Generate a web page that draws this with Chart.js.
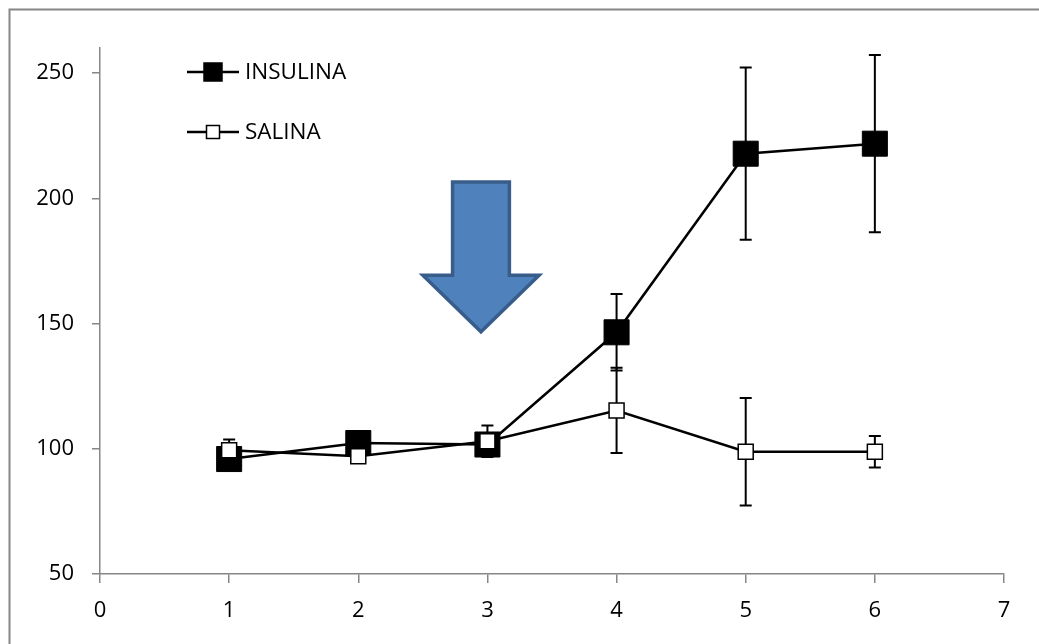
<!DOCTYPE html>
<html>
<head>
<meta charset="utf-8">
<script src="https://cdn.jsdelivr.net/npm/chart.js@4.4.1/dist/chart.umd.min.js"></script>
<style>
  body { margin: 0; background: #fff; }
  #wrap { width: 1039px; height: 644px; position: relative; }
</style>
</head>
<body>
<div id="wrap"><canvas id="chart1" width="1039" height="644"></canvas></div>
<script>
const canvas = document.getElementById("chart1");

// data
const xValues = [1, 2, 3, 4, 5, 6];
const insulina = [95.9, 102.3, 101.7, 146.5, 217.8, 221.8];
const insulinaErr = [3, 3, 2, 15.3, 34.4, 35.4];
const salina = [99.4, 97.0, 103.0, 115.3, 98.8, 98.8];
const salinaErr = [4.3, 2, 6.3, 17, 21.5, 6.3];
const yTicks = [50, 100, 150, 200, 250];
const xTicks = [0, 1, 2, 3, 4, 5, 6, 7];
const seriesNames = ["INSULINA", "SALINA"];

// arrow annotation, in data units
const arrow = { x: 2.95, top: 206.5, neck: 169.3, tip: 146.7, shaftHalf: 0.22, headHalf: 0.45 };

const FONT = "'Open Sans', 'Noto Sans', sans-serif";
const AXIS_GREY = "#868686";

function toPoints(ys) {
  return xValues.map((x, i) => ({ x: x, y: ys[i] }));
}

// frame around the whole picture
const framePlugin = {
  id: "frame",
  beforeDraw(chart) {
    const ctx = chart.ctx;
    ctx.save();
    ctx.fillStyle = "#fff";
    ctx.fillRect(0, 0, chart.width, chart.height);
    ctx.strokeStyle = AXIS_GREY;
    ctx.lineWidth = 2;
    ctx.strokeRect(9.5, 9.5, chart.width + 20, chart.height + 20);
    ctx.restore();
  },
};

// error bars, behind the markers
const errorBarPlugin = {
  id: "errorBars",
  beforeDatasetsDraw(chart) {
    const ctx = chart.ctx;
    const xs = chart.scales.x;
    const ys = chart.scales.y;
    const sets = [
      [salina, salinaErr],
      [insulina, insulinaErr],
    ];
    ctx.save();
    ctx.strokeStyle = "#000";
    ctx.lineWidth = 2;
    sets.forEach(([vals, errs]) => {
      vals.forEach((v, i) => {
        const px = xs.getPixelForValue(xValues[i]);
        const top = ys.getPixelForValue(v + errs[i]);
        const bot = ys.getPixelForValue(v - errs[i]);
        ctx.beginPath();
        ctx.moveTo(px, top);
        ctx.lineTo(px, bot);
        ctx.moveTo(px - 6, top);
        ctx.lineTo(px + 6, top);
        ctx.moveTo(px - 6, bot);
        ctx.lineTo(px + 6, bot);
        ctx.stroke();
      });
    });
    ctx.restore();
  },
};

// blue arrow + legend inside plot
const extrasPlugin = {
  id: "extras",
  afterDatasetsDraw(chart) {
    const ctx = chart.ctx;
    const xs = chart.scales.x;
    const ys = chart.scales.y;
    const cx = xs.getPixelForValue(arrow.x);
    const sL = xs.getPixelForValue(arrow.x - arrow.shaftHalf);
    const sR = xs.getPixelForValue(arrow.x + arrow.shaftHalf);
    const hL = xs.getPixelForValue(arrow.x - arrow.headHalf);
    const hR = xs.getPixelForValue(arrow.x + arrow.headHalf);
    const yTop = ys.getPixelForValue(arrow.top);
    const yNeck = ys.getPixelForValue(arrow.neck);
    const yTip = ys.getPixelForValue(arrow.tip);

    ctx.save();
    ctx.beginPath();
    ctx.moveTo(sL, yTop);
    ctx.lineTo(sR, yTop);
    ctx.lineTo(sR, yNeck);
    ctx.lineTo(hR, yNeck);
    ctx.lineTo(cx, yTip);
    ctx.lineTo(hL, yNeck);
    ctx.lineTo(sL, yNeck);
    ctx.closePath();
    ctx.fillStyle = "#4F81BD";
    ctx.fill();
    ctx.strokeStyle = "#385D8A";
    ctx.lineWidth = 3.5;
    ctx.lineJoin = "miter";
    ctx.stroke();

    // legend
    const rows = [
      { y: 72, size: 18, fill: "#000" },
      { y: 132, size: 13, fill: "#fff" },
    ];
    ctx.font = "22.5px " + FONT;
    ctx.textBaseline = "middle";
    rows.forEach((r, i) => {
      ctx.strokeStyle = "#000";
      ctx.lineWidth = 2.5;
      ctx.beginPath();
      ctx.moveTo(187, r.y);
      ctx.lineTo(239, r.y);
      ctx.stroke();
      const mx = 213 - r.size / 2;
      ctx.fillStyle = r.fill;
      ctx.fillRect(mx, r.y - r.size / 2, r.size, r.size);
      ctx.lineWidth = 1.5;
      ctx.strokeRect(mx, r.y - r.size / 2, r.size, r.size);
      ctx.fillStyle = "#000";
      ctx.fillText(seriesNames[i], 245, r.y + 1);
    });
    ctx.restore();
  },
};

const myChart = new Chart(canvas, {
  type: "line",
  data: {
    datasets: [
      {
        label: seriesNames[1],
        data: toPoints(salina),
        borderColor: "#000",
        borderWidth: 2.5,
        pointStyle: "rect",
        pointRadius: 10.6,
        pointBackgroundColor: "#fff",
        pointBorderColor: "#000",
        pointBorderWidth: 1.5,
        tension: 0,
        clip: false,
      },
      {
        label: seriesNames[0],
        data: toPoints(insulina),
        borderColor: "#000",
        borderWidth: 2.5,
        pointStyle: "rect",
        pointRadius: 17.7,
        pointBackgroundColor: "#000",
        pointBorderColor: "#000",
        pointBorderWidth: 1,
        tension: 0,
        clip: false,
      },
    ],
  },
  options: {
    responsive: false,
    animation: false,
    events: [],
    layout: { padding: { top: 48, right: 35, left: 0, bottom: 0 } },
    plugins: {
      legend: { display: false },
      tooltip: { enabled: false },
    },
    scales: {
      x: {
        type: "linear",
        min: 0,
        max: 7,
        afterBuildTicks: (scale) => {
          scale.ticks = xTicks.map((v) => ({ value: v }));
        },
        afterFit: (scale) => {
          scale.height = 70;
        },
        border: { color: AXIS_GREY, width: 1.5 },
        grid: { drawOnChartArea: false, color: AXIS_GREY, tickLength: 9, lineWidth: 1.5 },
        ticks: { color: "#000", padding: 15, font: { family: FONT, size: 22 } },
      },
      y: {
        type: "linear",
        min: 50,
        max: 260,
        afterBuildTicks: (scale) => {
          scale.ticks = yTicks.map((v) => ({ value: v }));
        },
        afterFit: (scale) => {
          scale.width = 100;
        },
        border: { color: AXIS_GREY, width: 1.5 },
        grid: { drawOnChartArea: false, color: AXIS_GREY, tickLength: 8, lineWidth: 1.5 },
        ticks: { color: "#000", padding: 18, font: { family: FONT, size: 22 } },
      },
    },
  },
  plugins: [framePlugin, errorBarPlugin, extrasPlugin],
});
</script>
</body>
</html>
